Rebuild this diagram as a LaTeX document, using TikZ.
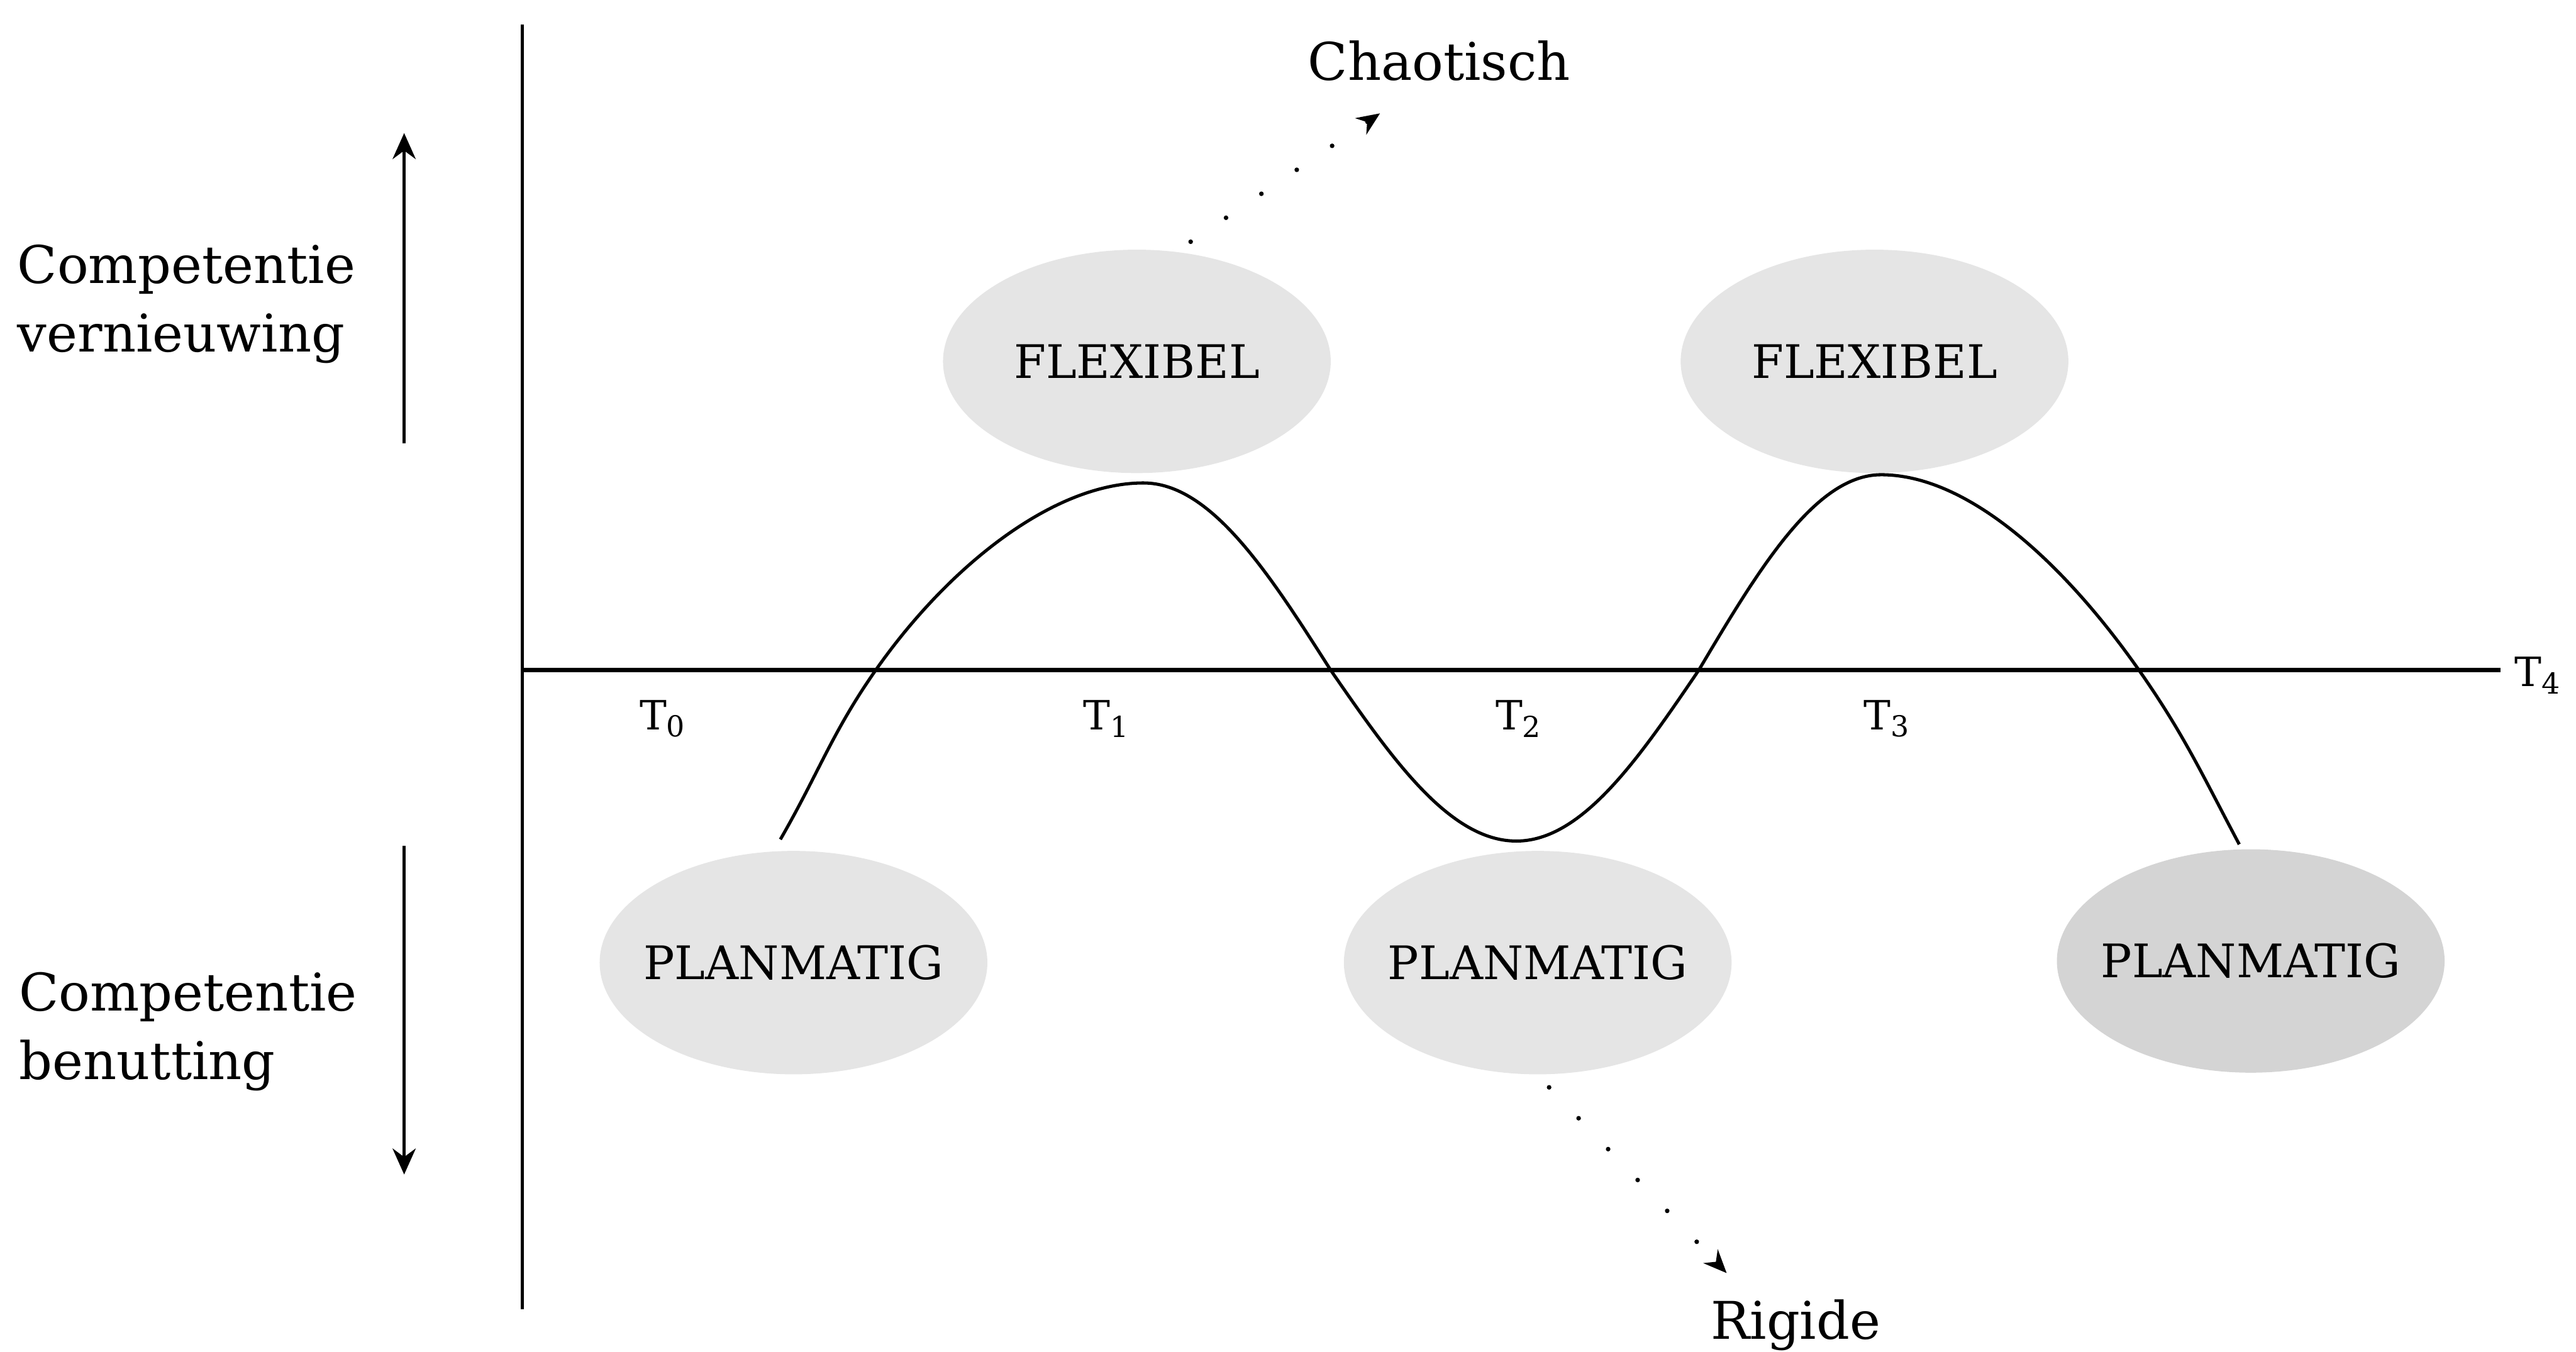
\documentclass[tikz,border=0pt]{standalone}
\usepackage{fontspec}
\setmainfont{DejaVu Serif}
\usetikzlibrary{arrows.meta,shapes.geometric}

\begin{document}
\begin{tikzpicture}[>={Stealth[length=4.5pt,width=4pt]},
  blob/.style={ellipse,minimum width=2.36cm,minimum height=1.36cm,inner sep=0pt,fill=gray!20},
  blobtxt/.style={inner sep=0pt,font=\fontsize{8}{9}\selectfont},
  side/.style={inner sep=0pt,align=left,font=\fontsize{9}{11.9}\selectfont},
  tlab/.style={inner sep=0pt,font=\fontsize{7}{8}\selectfont},
  dots/.style={line width=0.8pt,line cap=round,dash pattern=on 0pt off 7.4pt,shorten <=0.1cm,-{Stealth[length=4pt,width=3.4pt]}}]
  \useasboundingbox (0,0) rectangle (15.68,-8.23);
  % grey blobs with their labels
  \foreach \n/\x/\y/\t in {flex1/6.92/-2.20/FLEXIBEL,flex2/11.41/-2.20/FLEXIBEL,plan1/4.83/-5.86/PLANMATIG,plan2/9.36/-5.86/PLANMATIG}
    {\node[blob] (\n) at (\x,\y) {}; \node[blobtxt] (\n-l) at (\n) {\t};}
  \node[blob,fill=gray!34] (plan3) at (13.70,-5.85) {};
  \node[blobtxt] (plan3-l) at (plan3) {PLANMATIG};
  % axes
  \coordinate (O) at (3.18,-4.08);
  \draw[line width=0.5pt] (3.18,-0.15) -- (3.18,-7.97);
  \draw[line width=0.75pt] (O) -- (15.22,-4.08) coordinate (xend);
  \foreach \i/\x in {0/4.04,1/6.74,2/9.25,3/11.49} \node[tlab] (t\i) at (\x,-4.375) {T\textsubscript{\i}};
  \node[tlab,anchor=west] (t4) at (15.30,-4.11) {T\textsubscript{4}};
  % the wave
  \draw[line width=0.55pt] (4.75,-5.11) to[out=60,in=235] (5.33,-4.08) to[out=55,in=180,in looseness=0.7] (6.96,-2.94)
    cos (8.10,-4.08) sin (9.23,-5.12) cos (10.34,-4.08) sin (11.45,-2.89)
    to[out=0,in=125,out looseness=0.7] (13.02,-4.08) to[out=-55,in=118] (13.63,-5.14);
  % side labels
  \node[side,anchor=west] (renew) at (0.10,-1.85) {Competentie\\vernieuwing};
  \node[side,anchor=west] (use) at (0.11,-6.28) {Competentie\\benutting};
  \draw[->,line width=0.6pt] (2.46,-2.70) -- (2.46,-0.81);
  \draw[->,line width=0.6pt] (2.46,-5.15) -- (2.46,-7.15);
  % way out
  \node[side,anchor=base] (chaos) at (8.76,-0.49) {Chaotisch};
  \coordinate (chaostip) at (8.40,-0.69);
  \draw[dots] (flex1.70) -- (chaostip);
  \node[side,anchor=base] (rigid) at (10.93,-8.15) {Rigide};
  \coordinate (rigidtip) at (10.51,-7.75);
  \draw[dots] (plan2.south) -- (rigidtip);
\end{tikzpicture}
\end{document}
